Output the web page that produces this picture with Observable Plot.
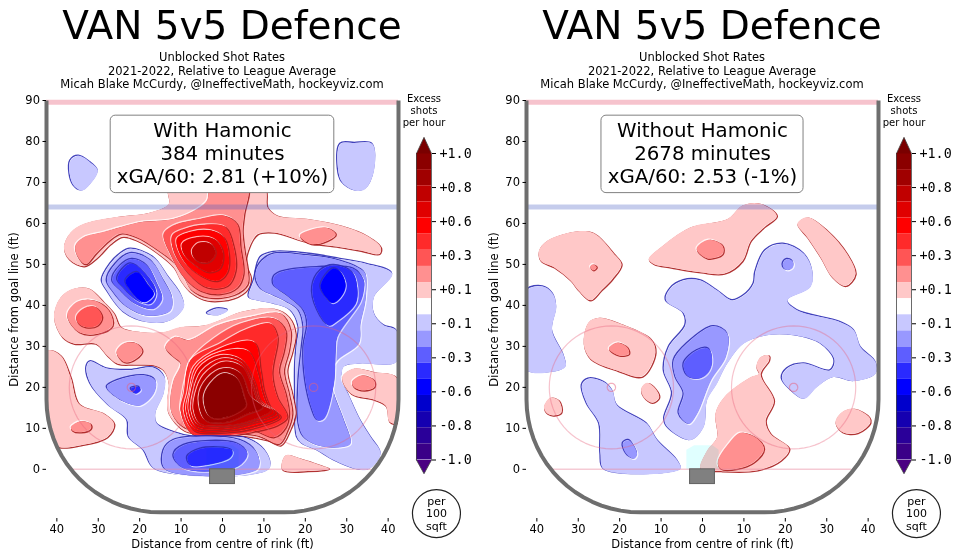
<!DOCTYPE html>
<html><head><meta charset="utf-8">
<script src="https://cdn.jsdelivr.net/npm/d3@7"></script>
<script src="https://cdn.jsdelivr.net/npm/@observablehq/plot@0.6"></script>
<style>
html,body{margin:0;padding:0;background:#fff}
#page{position:relative;width:960px;height:558px;overflow:hidden;font-family:"DejaVu Sans",sans-serif;color:#000}
#page svg{position:absolute;top:0;background:transparent;overflow:visible}
.title{position:absolute;top:-2px;width:480px;text-align:center;font-size:39px;line-height:56px;white-space:nowrap}
.sub{position:absolute;top:51px;width:444px;text-align:center;font-size:11.5px;line-height:13.6px;white-space:nowrap}
</style></head><body><div id="page"></div>
<script>
// Level colours, index = |level| (1 = weakest)
const redBands = ["#ffc8c8","#ff9090","#ff5555","#ff2a2a","#ff0000","#e00000","#c00000","#a00000","#8b0000"];
const blueBands = ["#c8c8ff","#9898ff","#5e5eff","#2a2aff","#0000ff","#0000cc","#1500b0","#2a0099","#3a0088"];
const barColours = ["#8b0000","#a00000","#c00000","#e00000","#ff0000","#ff2a2a","#ff5555","#ff9090","#ffc8c8","#ffffff","#c8c8ff","#9898ff","#5e5eff","#2a2aff","#0000ff","#0000cc","#1500b0","#2a0099","#3a0088"];
const barTickLabels = ["+1.0","+0.8","+0.6","+0.3","+0.1","-0.1","-0.3","-0.6","-0.8","-1.0"];
const xTicks = [-40,-30,-20,-10,0,10,20,30,40];
const yTicks = [0,10,20,30,40,50,60,70,80,90];

// Contour shapes: [level, [[ft across, ft from goal line], ...]]
const withShapes = [
 [-1,[[-36.7,75.3],[-34.7,76.5],[-31.9,74.9],[-30.1,72.9],[-31.9,69.6],[-33.9,68],[-35.9,69.2],[-36.9,72.1]]],
 [-1,[[28.5,79.4],[32,79.6],[36.2,79.4],[36.6,72.9],[34.5,68.4],[32.1,68],[28.9,70],[27.9,73.3]]],
 [1,[[-38.3,54.2],[-36.7,57.8],[-33.5,59.9],[-26.2,61.5],[-17.4,62.7],[-13,64.8],[-13,69],[10,69],[10.8,64],[13.2,61.9],[20.5,61.1],[28.5,59.5],[34.9,57],[38.2,54.2],[37.8,52.6],[33.3,53.4],[28.5,54.2],[20.5,55.4],[12.4,57.8],[8.4,57.4],[6.4,54.2],[5.6,50.1],[6.8,46.9],[6,44],[2.7,41.8],[-3.7,41.2],[-7.7,43.2],[-10.1,46.1],[-11.8,49.3],[-16.6,53.4],[-20.6,55.8],[-24.2,56.8],[-27.1,55],[-30.3,51.7],[-33.5,49.6],[-37.1,51.3]]],
 [2,[[-35.5,54.6],[-33.5,56.6],[-28.7,57.9],[-24.6,59.1],[-19.8,60.3],[-11.8,61.1],[-6.1,63.5],[-3.7,65.6],[-2.9,69],[6,69],[5.2,62.3],[4.8,58.3],[5.3,53.4],[6.1,48.5],[6,45.2],[2.7,42.6],[-3.7,42],[-7.7,44],[-9.3,46.9],[-11.8,50.5],[-16.6,54.2],[-20.6,56.6],[-24.6,57.6],[-27.5,55.8],[-30.7,52.6],[-33.1,50.1],[-35.1,52.2]]],
 [2,[[18.7,57],[21.3,58.4],[25.3,58.9],[27.3,57.4],[25.3,55.8],[21.3,55]]],
 [3,[[-14.2,57.4],[-11.8,59.5],[-5.3,61.1],[0.3,61.9],[3.5,59.9],[4.3,54.2],[5,47.7],[3.5,44.4],[-0.5,42.8],[-5.3,43.6],[-9.3,46.9],[-12.6,52.6]]],
 [4,[[-12.1,57],[-9.3,58.6],[-3.7,59.7],[0.7,59.1],[2.7,54.2],[3.1,48.5],[1.1,44.8],[-3.7,44.4],[-8.5,48.1],[-11.8,53.4]]],
 [5,[[-11,56.2],[-7.7,57.9],[-2.9,58.3],[0.3,56.6],[1.5,52.6],[1.1,48.1],[-1.3,46],[-5.3,47.3],[-9.3,50.9]]],
 [6,[[-9.7,55],[-6.1,56.6],[-2.1,56.2],[0,53.4],[-0.5,49.3],[-3.3,48.1],[-6.9,50.1],[-9.3,52.6]]],
 [7,[[-7.3,53.4],[-5.7,55.2],[-2.9,55],[-1.7,53],[-2.9,50.9],[-5.3,50.5],[-6.9,51.7]]],
 [-1,[[-22.2,53.8],[-16.6,51.7],[-13,46.9],[-10.1,42.8],[-9.3,39.6],[-12.6,36.3],[-18.2,35.9],[-23.8,38.3],[-27.9,43.6],[-29.1,46.1],[-27.1,50.1],[-24.6,52.6]]],
 [-2,[[-22.2,52.7],[-17.4,51],[-14.2,46.1],[-12.2,42],[-12.6,38.7],[-18.2,37.5],[-23,39.6],[-26.6,43.6],[-27.9,46.1],[-25.8,50.1]]],
 [-3,[[-21.8,51.3],[-18.2,49.7],[-15.8,45.2],[-14.6,41.6],[-16.6,39.2],[-21,40.4],[-24.6,43.6],[-26.6,46.1],[-24.6,49.7]]],
 [-4,[[-22.2,50.2],[-18.6,47.7],[-16,43],[-17.4,40.4],[-20.6,41.2],[-24,44.4],[-25.4,46.5]]],
 [-5,[[-23.4,46],[-20.6,48.1],[-18,45],[-16.6,42.8],[-19,40.8],[-22.2,43.6]]],
 [-1,[[9.2,51.7],[12.4,53],[20.5,52.6],[28.5,51.3],[34.9,50.1],[41,47.7],[36.6,42],[36.6,38],[39,35.1],[42,33.9],[42,26.2],[33.3,25.8],[29.3,25],[28.9,21.7],[30.5,18.1],[33.3,12],[35.8,7.9],[38.2,3.8],[35.3,0],[32.5,0],[26.9,2.2],[22.9,4.6],[19.2,6.3],[18,7.9],[17.6,17.6],[17.6,25.8],[18,30.7],[18.4,34.7],[16.4,38.8],[12.4,40.4],[8.4,41.2],[6.4,42],[7.6,46.1]]],
 [-2,[[9.6,50.9],[12.4,52.6],[20.5,52.2],[26.9,51.3],[33.3,48.9],[34.5,47.7],[34.5,41.2],[33.3,35.5],[32.9,30.7],[27.7,26.6],[26.1,23.3],[26.9,18.5],[29.3,12],[30.9,6.3],[28.5,5.4],[22.9,5.9],[19.6,7.9],[18.4,11.1],[18.4,21.7],[19.2,29.8],[19.6,34.7],[18.4,38.8],[15.6,40.8],[12.4,42.4],[9.2,44.1],[8,47.7]]],
 [-3,[[12.4,46.9],[14,48.1],[22.9,49.3],[31.7,48.9],[34.1,46.1],[34.1,43.7],[33.3,40.8],[27.7,32.3],[27.3,28.6],[26.9,20.9],[24.5,12.4],[22.9,12],[21.7,14.4],[20,21.7],[19.6,29.8],[20.5,35.5],[19.6,38.8],[15.6,42.4],[12.4,44.9]]],
 [-4,[[21.7,44.5],[22.9,38.8],[25.7,35.1],[27.3,35.9],[32.1,40.4],[32.5,44.5],[31.3,48.1],[26.9,49.8],[23.7,48.5]]],
 [-5,[[23.7,44.5],[25.3,41.6],[26.5,40.6],[28.5,42],[29.7,44.9],[28.5,48.1],[26.9,49],[24.9,47.3]]],
 [-1,[[-3.7,38],[-1.3,39.2],[1.3,38.8],[-0.9,37.6]]],
 [1,[[-40.7,37.2],[-39.1,42],[-35.9,44.1],[-32.3,44.1],[-28.7,40.8],[-26.2,38],[-24.6,34.7],[-19.8,33.5],[-14.2,33.5],[-10.1,34.7],[-4.5,35.1],[0.3,36.8],[4.3,38.4],[12.4,39.2],[16,37.2],[17.6,33.1],[16.8,28.6],[15.6,24.1],[16.8,18.5],[17.6,13.6],[16.4,9.9],[14,5.9],[10.8,7.1],[4.3,8.3],[-3.7,8.5],[-9.3,9.5],[-13,13.6],[-13.4,16.8],[-13,20.9],[-14.2,24.1],[-16.6,25.4],[-21.4,25.6],[-25.4,25.8],[-27.9,27.8],[-30.7,30.7],[-35.9,30.7],[-38.7,32.3]]],
 [2,[[-37.5,37.6],[-35.1,40.8],[-31.1,41.2],[-27.5,38.8],[-26.6,35.1],[-30.3,33.1],[-34.7,33.5]]],
 [3,[[-35.3,37.2],[-33.5,39.2],[-30.7,39.6],[-29.1,37.2],[-30.3,35.1],[-33.1,34.7],[-34.7,35.5]]],
 [2,[[-25.6,28.6],[-23.8,30.7],[-21,30.8],[-19.4,29],[-21,27],[-23.8,26.2]]],
 [2,[[-13.8,29.8],[-11.4,32.3],[-8.1,31.5],[-1.3,35.1],[6.8,37.2],[14,38],[16.4,33.9],[16,29],[14.8,24.1],[16,18.5],[16.8,13.6],[15.6,9.5],[13.6,6.3],[8.4,8.3],[-3.7,9.4],[-9.3,10.3],[-12.2,13.6],[-12.6,16.8],[-11.8,21.7],[-10.1,25.8],[-12.2,27.8]]],
 [3,[[-7.7,26.6],[-2.1,31.9],[4.3,35.5],[12.4,36.8],[15.2,33.9],[14.8,29],[13.6,24.1],[15.2,18.5],[16,13.6],[15.2,10.3],[12.4,7.9],[7.6,9.5],[-3.7,10.3],[-8.1,11.5],[-10.1,14.4],[-9.7,18.5],[-8.9,22.5]]],
 [4,[[-9.3,18.5],[-7.7,26.6],[-0.5,30.7],[5.2,33.9],[11.6,35.5],[13.2,32.7],[13.2,30.7],[12,23.4],[13.2,17.7],[15.6,12.8],[13.2,10.8],[6.8,9.1],[1.1,8.3],[-7.3,8.7],[-10.1,14.4]]],
 [5,[[-8.5,18.5],[-6.9,25],[-0.5,29.5],[7.6,31],[9.2,24.2],[10,19.3],[11.6,15.2],[14,12.8],[6.8,9.9],[1.1,9.1],[-6.9,9.5],[-9.3,14.4]]],
 [5,[[-8,18.5],[-6.3,24.8],[-0.5,28.6],[6.2,28.8],[8.6,23.2],[9.6,18.8],[11.2,15],[13.4,12.9],[6.8,10.5],[1.1,9.5],[-6.5,9.9],[-8.7,14.4]]],
 [6,[[-7.7,18.5],[-5.7,24.6],[-0.5,27.8],[4.7,26.6],[7.8,21.3],[9.2,16.8],[13.2,13.6],[6.8,11.2],[1.1,9.9],[-6.1,10.3],[-8.1,14.4]]],
 [6,[[-7.1,18.5],[-5.1,23.8],[-0.1,27],[4.7,25.8],[7.4,20.7],[9,16.4],[12.4,14],[6.8,11.6],[1.1,10.4],[-5.7,10.8],[-7.5,14.4]]],
 [7,[[-6.5,18.5],[-4.5,23],[0.3,26.2],[4.7,25],[7.2,20.1],[8.8,16],[11.6,14.4],[6.8,12],[1.1,10.8],[-5.3,11.2],[-6.9,14.4]]],
 [8,[[-5.7,17.7],[-3.7,22.1],[0.3,24.6],[4.3,23.4],[6.8,17.7],[9.6,15.2],[6,13.6],[1.1,11.6],[-4.1,12]]],
 [9,[[-4.5,17.3],[-2.9,20.9],[0.3,23.4],[3.5,22.1],[5.2,17.7],[5.6,15.6],[1.1,12.8],[-2.9,12.8]]],
 [-1,[[-32.8,25],[-31.9,26.3],[-27.9,24.6],[-22.2,24.2],[-16.6,24.8],[-14,22.5],[-14.2,18.5],[-16.2,13.6],[-15.8,11.1],[-11.8,9.1],[-6.9,7.9],[6,7.5],[10.8,3.8],[11.2,0],[-16.2,0],[-19,4.6],[-22.6,7.9],[-23,12],[-27.5,15.6],[-31.9,20.9]]],
 [-2,[[-27.9,20.1],[-25.4,21.7],[-18.9,22.9],[-16.2,21.7],[-16.6,18.5],[-19.8,15.6],[-22.6,16],[-26.2,18]]],
 [-4,[[-22.1,19.7],[-20.2,20.1],[-19.8,19.3],[-21,18.5]]],
 [-2,[[-14.2,4.6],[-11.8,7.1],[4.3,7.1],[8.4,3.8],[8.4,0],[-13.8,0]]],
 [-3,[[-11.8,3.4],[-9.3,5.9],[3.5,6.3],[6,3.8],[3.5,0.6],[-9.3,0.2]]],
 [-4,[[-8.5,3],[-5.3,5],[2.3,4.6],[1.9,3],[-4.5,1],[-7.7,1]]],
 [1,[[-42.2,29],[-39.1,27.8],[-36.7,22.5],[-34.7,16],[-28.7,13.6],[-26.2,11.1],[-27.9,7.9],[-34.3,5.9],[-39.8,5.6],[-41.5,9],[-42.2,15]]],
 [2,[[-36.6,10.3],[-34.3,11.7],[-31.9,11.1],[-31.9,9.9],[-34.3,9.1],[-36.3,9.5]]],
 [1,[[28.9,22.5],[31.7,24.6],[36.6,23.7],[41.9,22.5],[42,11.3],[40.3,11.6],[39.4,15.5],[36.6,17],[31,18.5]]],
 [2,[[31.3,21.3],[33.7,22.9],[36.6,21.7],[36.6,20.1],[34.1,19.3],[31.7,20.1]]],
 [1,[[14.4,0],[15.2,3.4],[18.9,2.6],[23.7,1],[25.7,0.2],[20.5,-0.4]]]
];
const withoutShapes = [
 [1,[[-39.5,53.4],[-37.5,55.8],[-30.3,58.1],[-26.2,57.6],[-21.4,52.6],[-19.6,50.1],[-21.8,46.5],[-24.6,43.6],[-27.1,41.3],[-29.9,43.6],[-31.9,46.1],[-35.9,49.3],[-39.1,50.9]]],
 [2,[[-27.1,49.4],[-26.4,50],[-25.6,49.4],[-26.4,48.6]]],
 [1,[[-13,51.3],[-10.1,54.2],[-2.9,59.1],[6,61.1],[9.6,64.4],[14,64.8],[17.9,61.9],[14.8,59.1],[11.6,55.8],[9.6,50.9],[5.2,47.8],[-0.5,48.1],[-7.7,49.3],[-11.8,50.1]]],
 [2,[[-1.4,53.8],[1.5,56],[4.8,54.6],[4.8,52.6],[1.1,51.5]]],
 [1,[[22.9,59.9],[25.3,61.5],[30.1,58.3],[34.9,52.6],[36.9,47.7],[34.5,44.8],[31.3,46.9],[28.5,51.7],[25.3,56.6]]],
 [-1,[[-8.8,41.2],[-7.7,44.1],[-4.5,46.1],[-0.5,46.1],[3.5,43.7],[7.2,41.2],[10,42.4],[12.4,45.3],[12.8,48.1],[15.2,53.4],[19.6,55],[24.5,52.6],[26.5,48.5],[26.1,44.5],[20.5,41.2],[22.9,38.8],[33.3,35.9],[36.6,33.9],[38.2,29.8],[41.8,26.2],[41.8,23.3],[36.6,21.5],[31.7,22.5],[27.7,20.1],[24.5,17.2],[21.3,19.3],[19.2,22.1],[20.5,24.6],[24.5,25.8],[30.9,24.1],[31.9,26.6],[28.5,30.7],[22.1,32.7],[15.6,32.7],[10,30.7],[6,25.8],[3.5,20.9],[1.1,16.8],[0.3,10.3],[-2.9,7.1],[-8.5,10.3],[-9.2,12.4],[-7.3,18.5],[-9.3,24.1],[-8.1,29.8],[-4.1,35.1],[-4.5,38]]],
 [-2,[[19.5,50.4],[20.5,51.3],[21.8,50.7],[21.8,49.3],[20.5,48.6],[19.5,49.3]]],
 [-2,[[-6.9,26.6],[-3.7,30.7],[2.7,34.9],[6,33.1],[5.6,27.4],[2,21.7],[-1.3,13.6],[-3.3,11.1],[-5.7,13.6],[-4.5,18.5],[-6.5,22.5]]],
 [-3,[[-4.5,25.8],[-1.3,29],[1.5,29.4],[2.3,26.2],[1.1,23.3],[-1.3,22.1],[-3.7,22.9]]],
 [-1,[[-42.4,43.7],[-38.5,44.6],[-36.1,42.8],[-35.3,39.6],[-36.3,33.9],[-33.5,27.8],[-33.1,25],[-36.7,23.7],[-42.4,24.2],[-44,34]]],
 [1,[[-28.7,30.7],[-27.5,35.9],[-25,37],[-19.8,35.5],[-12.6,31.9],[-11.4,28.6],[-14.6,22.7],[-20.6,24.1],[-27.1,27]]],
 [2,[[-22.6,29.4],[-20.6,30.9],[-18.2,29.8],[-17.8,28.2],[-20.2,27.8]]],
 [1,[[-14.8,19.7],[-13.4,21.1],[-11.4,19.7],[-10.5,17.6],[-12.2,16.3],[-14.2,17.6]]],
 [1,[[-38.3,15.2],[-36.7,17.5],[-34.7,16.8],[-34.1,14],[-35.9,13.2],[-37.5,13.6]]],
 [-1,[[-29.1,20.5],[-27.5,22.1],[-23.8,21.3],[-21.8,19.3],[-20.6,15.6],[-13.4,11.1],[-10.9,7.1],[-6.1,2.2],[-5.3,0.1],[-23.8,0],[-24.6,3.8],[-24.9,11.1],[-27.9,16]]],
 [-2,[[-19.2,6.3],[-17.8,7.1],[-15.8,3.8],[-16.6,2.6],[-18.4,3.8]]],
 [1,[[-0.5,0.2],[1.1,4.6],[3.5,7.9],[3.1,13.6],[5.2,17.6],[11.6,22.5],[13.6,23.3],[13,25],[14,27.4],[16,27.8],[16,26.6],[14,23.3],[17.2,16.8],[15.2,11.9],[16.4,8.7],[20.9,5.1],[18.9,2.2],[13.2,-0.2],[4.3,-0.4]]],
 [2,[[3.7,1.8],[6.4,6.3],[9.2,8.9],[13.2,7.5],[14.8,5],[12.4,1.8],[8.4,0.2],[4.3,0.2]]],
 [1,[[32.1,11.5],[33.7,14],[36.6,14.8],[40.2,12.8],[40.5,11.5],[37.4,8.9],[33.7,9.1]]]
];
const withBox = ["With Hamonic","384 minutes","xGA/60: 2.81 (+10%)"];
const withoutBox = ["Without Hamonic","2678 minutes","xGA/60: 2.53 (-1%)"];
const titleText = "VAN 5v5 Defence";
const subLines = ["Unblocked Shot Rates","2021-2022, Relative to League Average","Micah Blake McCurdy, @IneffectiveMath, hockeyviz.com"];
const creasePts = [[-3.9,0],[-3.9,4.8],[-2,5.9],[2.4,5.9],[3.9,4.8],[3.9,0]];
const netBox = [{x1:-3,x2:3,y1:-3.6,y2:0}];

const arc = (cx,cy,r,a0,a1) => d3.range(a0,a1+1,5).map(a=>[cx+r*Math.cos(a*Math.PI/180),cy+r*Math.sin(a*Math.PI/180)]);
const wallPts = [[-42.5,90],...arc(-15,17,27.5,180,270),...arc(15,17,27.5,270,360),[42.5,90]];
const faceoffs = [-22,22];
const FONT = '"DejaVu Sans",sans-serif';

function panel(shapes, box, boxHalf, left){
  const marks = [];
  for (const [lvl,pts] of shapes){
    const up = lvl>0, n=Math.abs(lvl)-1, off = up?0.75:-0.75;
    const dark = up?"#a81c1c":"#2c2cb4";
    const opt = {x:d=>d[0],y:d=>d[1],curve:"catmull-rom-closed",clip:"frame"};
    marks.push(Plot.line(pts,{...opt,stroke:"#ffffff",strokeWidth:1.1,strokeOpacity:n>1?.7:.85,dx:-off,dy:-off}));
    marks.push(Plot.line(pts,{...opt,stroke:dark,strokeWidth:1.3,strokeOpacity:.9,dx:off,dy:off}));
    marks.push(Plot.line(pts,{...opt,fill:(up?redBands:blueBands)[n],stroke:"none"}));
  }
  marks.push(Plot.line(creasePts,{x:d=>d[0],y:d=>d[1],fill:"#e0ffff",stroke:"none",curve:"linear",mixBlendMode:"multiply"}));
  marks.push(Plot.ruleY([0],{x1:-36,x2:36,stroke:"#e88aa0",strokeWidth:1.5,strokeOpacity:.45}));
  marks.push(Plot.ruleY([64],{x1:-42.5,x2:42.5,stroke:"#3f55c0",strokeWidth:5,strokeOpacity:.3}));
  marks.push(Plot.ruleY([89.6],{x1:-42.5,x2:42.5,stroke:"#e8607c",strokeWidth:5,strokeOpacity:.38}));
  for (const cx of faceoffs){
    marks.push(Plot.line(arc(cx,20,15,0,360),{x:d=>d[0],y:d=>d[1],stroke:"#e8607c",strokeWidth:1.2,strokeOpacity:.38}));
    marks.push(Plot.line(arc(cx,20,1,0,360),{x:d=>d[0],y:d=>d[1],stroke:"#e8607c",strokeWidth:1.2,strokeOpacity:.5}));
  }
  marks.push(Plot.rect(netBox,{x1:"x1",x2:"x2",y1:"y1",y2:"y2",fill:"#808080",stroke:"#606060",strokeWidth:1,inset:0}));
  marks.push(Plot.line(wallPts,{x:d=>d[0],y:d=>d[1],stroke:"#6e6e6e",strokeWidth:4,strokeLinecap:"butt",curve:"linear"}));
  marks.push(Plot.rect([{x1:-boxHalf,x2:boxHalf,y1:67.4,y2:86.3}],{x1:"x1",x2:"x2",y1:"y1",y2:"y2",fill:"#fff",stroke:"#808080",strokeWidth:1,rx:5}));
  marks.push(Plot.text([{x:0,y:77.2,t:box.join("\n")}],{x:"x",y:"y",text:"t",fontSize:19.8,lineHeight:1.15,fill:"#000",fontFamily:FONT}));
  marks.push(Plot.axisX(xTicks,{anchor:"bottom",tickFormat:Math.abs,tickSize:3.5,tickPadding:3,fontSize:11.5,label:"Distance from centre of rink (ft)",labelAnchor:"center",labelArrow:"none",labelOffset:29,fontFamily:FONT}));
  marks.push(Plot.axisY(yTicks,{anchor:"left",tickSize:3.5,tickPadding:3,fontSize:11.5,label:"Distance from goal line (ft)",labelAnchor:"center",labelArrow:"none",labelOffset:37,fontFamily:FONT}));
  const svg = Plot.plot({width:480,height:558,marginLeft:46,marginRight:82,marginTop:100,marginBottom:40,
    x:{domain:[-42.5,42.5]},y:{domain:[-12,90]},style:{fontFamily:FONT,fontSize:"11.5px",background:"transparent",color:"#000"},marks});
  svg.style.left = left+"px";
  return svg;
}

function colourbar(left){
  const n = barColours.length;
  const tickPos = barTickLabels.map((_,i)=>n-i*n/(barTickLabels.length-1));
  const bands = barColours.map((c,i)=>({y1:n-i-1,y2:n-i,c,x1:0,x2:1}));
  const svg = Plot.plot({width:80,height:558,marginLeft:16,marginRight:49,marginTop:153,marginBottom:98.5,
    x:{domain:[0,1],axis:null},y:{domain:[0,n],axis:null},style:{fontFamily:FONT,background:"transparent",color:"#000"},
    marks:[
      Plot.rect(bands,{x1:"x1",x2:"x2",y1:"y1",y2:"y2",fill:"c",inset:0}),
      Plot.line([[0,n],[0.5,n+1],[1,n]],{x:d=>d[0],y:d=>d[1],fill:"#7a0000",stroke:"none",curve:"linear"}),
      Plot.line([[0,0],[0.5,-0.85],[1,0]],{x:d=>d[0],y:d=>d[1],fill:"#4b0082",stroke:"none",curve:"linear"}),
      Plot.line([[0,0],[0,n],[0.5,n+1],[1,n],[1,0],[0.5,-0.85],[0,0]],{x:d=>d[0],y:d=>d[1],stroke:"#444",strokeWidth:.8,curve:"linear"}),
      Plot.axisY(tickPos,{anchor:"right",tickSize:4,tickPadding:4,fontSize:13.4,fontFamily:"'DejaVu Sans Mono',monospace",label:null,tickFormat:(d,i)=>barTickLabels[i]}),
      Plot.text([{x:0.5,y:n+2.7,t:"Excess\nshots\nper hour"}],{x:"x",y:"y",text:"t",fontSize:10,lineHeight:1.2,fill:"#000",fontFamily:FONT}),
      Plot.dot([{x:1.33,y:-3.32}],{x:"x",y:"y",r:24,stroke:"#222",strokeWidth:1.2,fill:"#fff"}),
      Plot.text([{x:1.33,y:-3.32,t:"per\n100\nsqft"}],{x:"x",y:"y",text:"t",fontSize:11,lineHeight:1.1,fill:"#000",fontFamily:FONT})
    ]});
  svg.style.left = left+"px";
  return svg;
}

const page = document.getElementById("page");
function heading(left){
  const t=document.createElement("div");t.className="title";t.textContent=titleText;t.style.left=(left-8)+"px";page.append(t);
  const s=document.createElement("div");s.className="sub";s.innerHTML=subLines.join("<br>");s.style.left=left+"px";page.append(s);
}
heading(0);heading(480);
page.append(panel(withShapes,withBox,27,0));
page.append(colourbar(400));
page.append(panel(withoutShapes,withoutBox,24.4,480));
page.append(colourbar(880));
</script></body></html>
